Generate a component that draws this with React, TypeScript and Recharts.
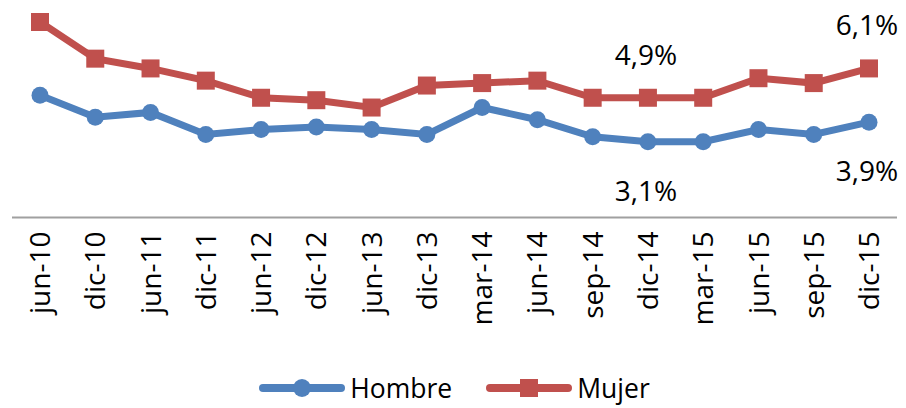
import React from 'react';
import { LineChart, Line, XAxis, YAxis, Legend, LabelList } from 'recharts';

const categories = ['jun-10', 'dic-10', 'jun-11', 'dic-11', 'jun-12', 'dic-12', 'jun-13', 'dic-13', 'mar-14', 'jun-14', 'sep-14', 'dic-14', 'mar-15', 'jun-15', 'sep-15', 'dic-15'];
const hombre = [5.0, 4.1, 4.3, 3.4, 3.6, 3.7, 3.6, 3.4, 4.5, 4.0, 3.3, 3.1, 3.1, 3.6, 3.4, 3.9];
const mujer = [8.0, 6.5, 6.1, 5.6, 4.9, 4.8, 4.5, 5.4, 5.5, 5.6, 4.9, 4.9, 4.9, 5.7, 5.5, 6.1];
const labelledIdx = [11, 15];

const BLUE = '#4F81BD';
const RED = '#C0504D';
const FONT = "'Open Sans', sans-serif";

const data = categories.map((c, i) => ({ name: c, hombre: hombre[i], mujer: mujer[i] }));

const fmt = (v: number) => v.toFixed(1).replace('.', ',') + '%';

const RotatedTick = (props: any) => {
  const { x, y, payload } = props;
  return (
    <g transform={`translate(${x},${y})`}>
      <text transform="rotate(-90)" textAnchor="end" dy="0.36em" fontSize={28} fontFamily={FONT} fill="#000">
        {payload.value}
      </text>
    </g>
  );
};

const makeLabel = (offset: number) => (props: any) => {
  const { x, y, value, index } = props;
  if (!labelledIdx.includes(index)) return null;
  return (
    <text x={x - 2} y={y + offset} textAnchor="middle" dominantBaseline="central" fontSize={28} fontFamily={FONT} fill="#000">
      {fmt(value)}
    </text>
  );
};

const SquareDot = (props: any) => {
  const { cx, cy, index } = props;
  return <rect key={`sq-${index}`} x={cx - 9} y={cy - 9} width={18} height={18} fill={RED} />;
};

const LegendIcon = ({ color, square }: { color: string; square?: boolean }) => (
  <svg width={86} height={22} style={{ display: 'block' }}>
    <line x1={4} y1={11} x2={82} y2={11} stroke={color} strokeWidth={8} strokeLinecap="round" />
    {square ? <rect x={34} y={2} width={18} height={18} fill={color} /> : <circle cx={43} cy={11} r={9} fill={color} />}
  </svg>
);

const renderLegend = () => (
  <div style={{ display: 'flex', justifyContent: 'center', alignItems: 'center', height: 40, fontFamily: FONT, fontSize: 26.5, color: '#000' }}>
    <LegendIcon color={BLUE} />
    <span style={{ marginLeft: 5, marginRight: 34 }}>Hombre</span>
    <LegendIcon color={RED} square />
    <span style={{ marginLeft: 5 }}>Mujer</span>
  </div>
);

export default function App() {
  return (
    <div style={{ width: 906, height: 408, background: '#fff' }}>
      <style>{`body{margin:0}`}</style>
      <LineChart width={906} height={408} data={data} margin={{ top: 22, right: 9, bottom: 0, left: 12 }}>
        <XAxis
          dataKey="name"
          interval={0}
          height={150.5}
          tickLine={false}
          tickSize={0}
          tickMargin={14}
          axisLine={{ stroke: '#A0A0A0', strokeWidth: 2 }}
          padding={{ left: 28, right: 28 }}
          tick={<RotatedTick />}
        />
        <YAxis hide domain={[0, 8]} />
        <Legend verticalAlign="bottom" height={40} content={renderLegend} />
        <Line dataKey="hombre" name="Hombre" stroke={BLUE} strokeWidth={7} dot={{ r: 8.5, fill: BLUE, stroke: 'none' }} activeDot={false} isAnimationActive={false}>
          <LabelList dataKey="hombre" content={makeLabel(48)} />
        </Line>
        <Line dataKey="mujer" name="Mujer" stroke={RED} strokeWidth={7} dot={SquareDot} activeDot={false} isAnimationActive={false}>
          <LabelList dataKey="mujer" content={makeLabel(-44)} />
        </Line>
      </LineChart>
    </div>
  );
}
